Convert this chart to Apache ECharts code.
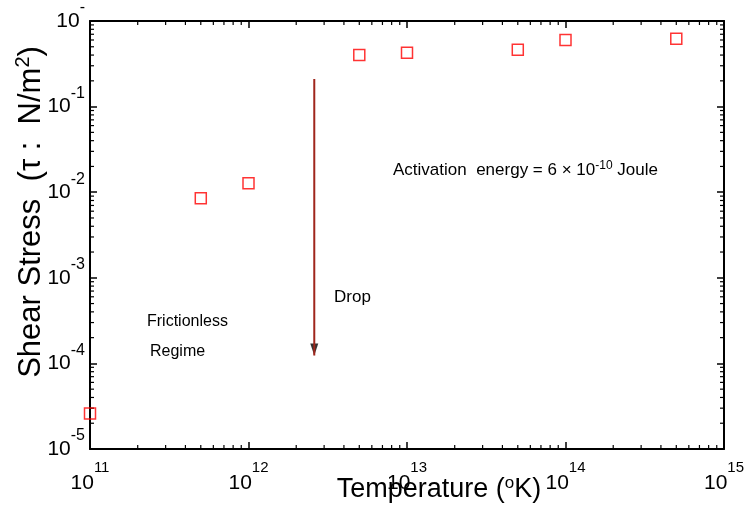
<!DOCTYPE html>
<html>
<head>
<meta charset="utf-8">
<script src="https://cdn.jsdelivr.net/npm/echarts@6/dist/echarts.min.js"></script>
<style>
html,body{margin:0;padding:0;background:#fff;}
#chart{width:750px;height:508px;}
</style>
</head>
<body>
<div id="chart"></div>
<script>
// ---- data ----
var temperature = [1e11, 5e11, 1e12, 5e12, 1e13, 5e13, 1e14, 5e14];
var shearStress = [2.6e-5, 8.5e-3, 0.0127, 0.40, 0.425, 0.46, 0.60, 0.62];
var arrowX = [2.6e12, 2.6e12];
var arrowY = [0.21, 1.24e-4];
var xTickExp = ['11','12','13','14','15'];
var yTickExp = ['-5','-4','-3','-2','-1','-'];
var minorMult = [2,3,4,5,6,7,8,9];
var xDecades = [1e11, 1e12, 1e13, 1e14];
var yDecades = [1e-5, 1e-4, 1e-3, 1e-2, 1e-1];

var FONT = 'Liberation Sans, Arial, sans-serif';

function xExp(v){ var e = Math.round(Math.log10(v)); return xTickExp[e - 11]; }
function yExp(v){ var e = Math.round(Math.log10(v)); return yTickExp[e + 5]; }

var xRich = {
  b: {fontSize: 21, lineHeight: 22, padding: [13,0,13,0], fontFamily: FONT, color: '#000', verticalAlign: 'top'},
  s: {fontSize: 15, lineHeight: 15, fontFamily: FONT, color: '#000', verticalAlign: 'top'}
};
var yRich = {
  b: {fontSize: 21, lineHeight: 42, fontFamily: FONT, color: '#000', verticalAlign: 'middle'},
  s: {fontSize: 16, lineHeight: 15, fontFamily: FONT, color: '#000', verticalAlign: 'top'}
};

// minor ticks data
var minorData = [];
xDecades.forEach(function(d){ minorMult.forEach(function(m){ minorData.push([d*m, 1e-3, 0]); }); });
yDecades.forEach(function(d){ minorMult.forEach(function(m){ minorData.push([1e12, d*m, 1]); }); });

var chart = echarts.init(document.getElementById('chart'));
var axisLineStyle = {color:'#000', width:2};
var tickStyle = {show: true, inside: true, length: 7, lineStyle: {color:'#000', width:1.5}};
var option = {
  animation: false,
  backgroundColor: '#fff',
  grid: {left: 90, right: 26, top: 19, bottom: 59, containLabel: false},
  xAxis: [{
    type: 'log', logBase: 10, min: 1e11, max: 1e15, interval: 1,
    position: 'bottom',
    axisLine: {show: true, lineStyle: axisLineStyle},
    axisTick: tickStyle,
    splitLine: {show: false},
    axisLabel: {margin: 11, formatter: function(v){ return '{b|10}{s|' + xExp(v) + '}'; }, rich: xRich}
  },{
    type: 'log', logBase: 10, min: 1e11, max: 1e15, interval: 1,
    position: 'top',
    axisLine: {show: true, lineStyle: axisLineStyle},
    axisTick: tickStyle,
    splitLine: {show: false},
    axisLabel: {show: false}
  }],
  yAxis: [{
    type: 'log', logBase: 10, min: 1e-5, max: 1, interval: 1,
    position: 'left',
    axisLine: {show: true, lineStyle: axisLineStyle},
    axisTick: tickStyle,
    splitLine: {show: false},
    axisLabel: {margin: 5, formatter: function(v){ return '{b|10}{s|' + yExp(v) + '}'; }, rich: yRich}
  },{
    type: 'log', logBase: 10, min: 1e-5, max: 1, interval: 1,
    position: 'right',
    axisLine: {show: true, lineStyle: axisLineStyle},
    axisTick: tickStyle,
    splitLine: {show: false},
    axisLabel: {show: false}
  }],
  series: [{
    type: 'custom',
    xAxisIndex: 0, yAxisIndex: 0,
    silent: true,
    clip: false,
    data: minorData,
    renderItem: function(params, api){
      var cs = params.coordSys;
      var kind = api.value(2);
      var L = 4;
      var st = {stroke:'#000', lineWidth:1.2};
      if (kind === 0) {
        var px = api.coord([api.value(0), 1e-3])[0];
        return {type:'group', children:[
          {type:'line', shape:{x1:px, y1:cs.y+cs.height, x2:px, y2:cs.y+cs.height-L}, style:st},
          {type:'line', shape:{x1:px, y1:cs.y, x2:px, y2:cs.y+L}, style:st}
        ]};
      } else {
        var py = api.coord([1e12, api.value(1)])[1];
        return {type:'group', children:[
          {type:'line', shape:{x1:cs.x, y1:py, x2:cs.x+L, y2:py}, style:st},
          {type:'line', shape:{x1:cs.x+cs.width, y1:py, x2:cs.x+cs.width-L, y2:py}, style:st}
        ]};
      }
    }
  },{
    type: 'line',
    data: arrowX.map(function(x,i){ return [x, arrowY[i]]; }),
    showSymbol: false, symbol: 'none',
    lineStyle: {color:'#a0261c', width: 2},
    silent: true
  },{
    type: 'scatter',
    data: [[arrowX[1], arrowY[1]]],
    symbol: 'triangle', symbolRotate: 180, symbolSize: [8, 12], symbolOffset: [0, -6],
    itemStyle: {color:'#000'},
    silent: true
  },{
    type: 'scatter',
    data: temperature.map(function(x,i){ return [x, shearStress[i]]; }),
    symbol: 'rect', symbolSize: 11,
    itemStyle: {color:'rgba(255,255,255,0)', borderColor:'#ff0000', borderWidth:1.5}
  }],
  graphic: [{
    type:'text', x: 31, y: 212, rotation: Math.PI/2,
    style: {
      text: '{a|Shear Stress  (τ :  N/m}{s|2}{a|)}',
      align:'center', verticalAlign:'middle',
      rich: {a:{fontSize:31, lineHeight:36, fontFamily:FONT, fill:'#000', verticalAlign:'middle'},
             s:{fontSize:20, lineHeight:20, fontFamily:FONT, fill:'#000', verticalAlign:'top'}}
    }
  },{
    type:'text', x: 439, y: 490,
    style: {
      text: '{t|Temperature (}{o|o}{t|K)}',
      align:'center', verticalAlign:'middle',
      rich: {t:{fontSize:27, lineHeight:30, fontFamily:FONT, fill:'#000', verticalAlign:'middle'},
             o:{fontSize:17, lineHeight:17, fontFamily:FONT, fill:'#000', verticalAlign:'top'}}
    }
  },{
    type:'text', x: 393, y: 170,
    style: {
      text: '{a|Activation  energy = 6 × 10}{s|-10}{a| Joule}',
      align:'left', verticalAlign:'middle',
      rich: {a:{fontSize:17, lineHeight:20, fontFamily:FONT, fill:'#000', verticalAlign:'middle'},
             s:{fontSize:12, lineHeight:12, fontFamily:FONT, fill:'#000', verticalAlign:'top'}}
    }
  },{
    type:'text', x: 334, y: 297,
    style: {text:'Drop', font:'17px ' + FONT, fill:'#000', align:'left', verticalAlign:'middle'}
  },{
    type:'text', x: 147, y: 322,
    style: {text:'Frictionless', font:'16px ' + FONT, fill:'#000', align:'left', verticalAlign:'middle'}
  },{
    type:'text', x: 150, y: 352,
    style: {text:'Regime', font:'16px ' + FONT, fill:'#000', align:'left', verticalAlign:'middle'}
  }]
};
chart.setOption(option);
</script>
</body>
</html>
